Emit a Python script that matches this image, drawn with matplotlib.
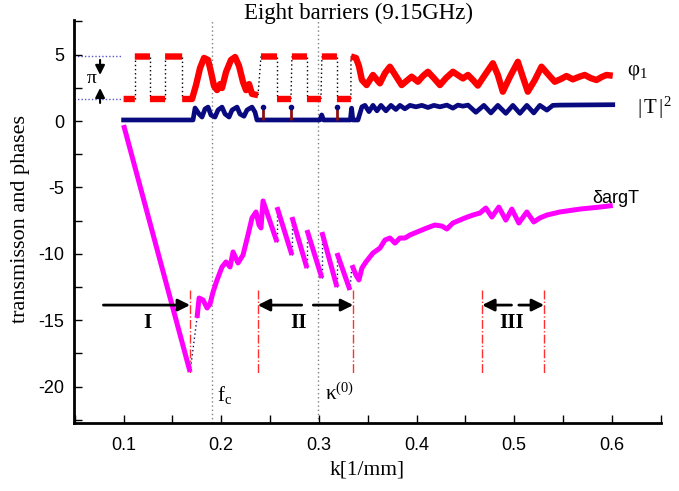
import numpy as np
import matplotlib.pyplot as plt
from matplotlib.ticker import MultipleLocator

plt.rcParams['axes.unicode_minus'] = False
plt.rcParams['mathtext.fontset'] = 'custom'
plt.rcParams['mathtext.rm'] = 'Liberation Serif'
plt.rcParams['mathtext.it'] = 'Liberation Serif:italic'
plt.rcParams['mathtext.bf'] = 'Liberation Serif:bold'

SERIF = 'Liberation Serif'
SANS = 'Liberation Sans'
nan = np.nan

# phase phi_1 (red), nan marks a jump (drawn as black dotted line)
phi_k = [0.1000, 0.1115, nan,
         0.1115, 0.1270, nan,
         0.1270, 0.1425, nan,
         0.1425, 0.1600, nan,
         0.1600, 0.1701, 0.1742, 0.1783, 0.1824, 0.1865, 0.1895, 0.1926, 0.1957,
         0.1988, 0.2008, 0.2049, 0.2100, 0.2142, 0.2182, 0.2223, 0.2254, 0.2285,
         0.2315, 0.2377, nan,
         0.2407, 0.2571, nan,
         0.2571, 0.2714, nan,
         0.2724, 0.2878, nan,
         0.2878, 0.3021, nan,
         0.3031, 0.3185, nan,
         0.3185, 0.3328, nan,
         0.3329, 0.3380, 0.3410, 0.3441, 0.3489, 0.3554, 0.3625, 0.3677, 0.3728,
         0.3789, 0.3848, 0.3950, 0.4014, 0.4066, 0.4117, 0.4178, 0.4240, 0.4301,
         0.4373, 0.4475, 0.4527, 0.4578, 0.4628, 0.4700, 0.4782, 0.4833, 0.4884,
         0.4956, 0.5038, 0.5089, 0.5140, 0.5212, 0.5280, 0.5345, 0.5416, 0.5478,
         0.5536, 0.5601, 0.5662, 0.5723, 0.5785, 0.5843, 0.5898, 0.5946, 0.6010]
phi_v = [1.66, 1.66, nan,
         4.86, 4.86, nan,
         1.66, 1.66, nan,
         4.86, 4.86, nan,
         1.66, 1.66, 2.71, 3.99, 4.75, 4.60, 3.69, 2.64, 2.33,
         2.78, 2.49, 3.69, 4.60, 4.82, 4.15, 2.94, 2.33, 2.78,
         2.04, 1.95, nan,
         4.86, 4.86, nan,
         1.66, 1.66, nan,
         4.86, 4.86, nan,
         1.66, 1.66, nan,
         4.86, 4.86, nan,
         1.66, 1.66, nan,
         4.86, 4.75, 4.15, 3.09, 2.71, 3.47, 2.84, 3.61, 4.09,
         3.39, 2.71, 3.34, 2.96, 3.39, 3.71, 3.23, 2.71, 3.23,
         3.71, 3.21, 3.47, 3.09, 2.67, 3.47, 4.35, 3.47, 2.21,
         3.32, 4.46, 3.32, 2.21, 3.09, 4.09, 3.54, 2.96, 3.16,
         3.39, 3.14, 3.32, 3.47, 3.23, 3.09, 3.32, 3.47, 3.41]

# transmission |T|^2 (navy)
trans_k = [0.1000, 0.1701, 0.1711, 0.1732, 0.1773, 0.1803, 0.1834, 0.1865, 0.1895,
           0.1936, 0.1967, 0.2008, 0.2039, 0.2080, 0.2111, 0.2162, 0.2192, 0.2233,
           0.2264, 0.2315, 0.2346, 0.2366, 0.3010, 0.3029, 0.3048, 0.3322, 0.3335,
           0.3348, 0.3400, 0.3441, 0.3472, 0.3513, 0.3554, 0.3595, 0.3636, 0.3687,
           0.3738, 0.3789, 0.3830, 0.3881, 0.3933, 0.3994, 0.4055, 0.4117, 0.4178,
           0.4240, 0.4311, 0.4373, 0.4424, 0.4475, 0.4527, 0.4608, 0.4690, 0.4762,
           0.4833, 0.4915, 0.4987, 0.5059, 0.5130, 0.5201, 0.5263, 0.5335, 0.5396,
           0.5468, 0.6010]
trans_v = [0.08, 0.08, 0.08, 0.98, 0.53, 0.30, 0.91, 1.05, 0.45,
           0.30, 0.83, 1.05, 0.53, 0.30, 0.83, 1.05, 0.53, 0.36,
           0.83, 1.05, 0.67, 0.08, 0.08, 0.46, 0.08, 0.08, 0.97,
           0.08, 0.08, 1.07, 1.18, 0.71, 1.18, 0.77, 1.18, 0.77,
           1.18, 0.87, 1.18, 0.92, 1.18, 1.07, 1.18, 1.02, 1.18,
           1.07, 1.20, 0.97, 1.20, 1.12, 1.20, 0.66, 1.18, 0.61,
           1.18, 0.58, 1.18, 0.58, 1.18, 0.61, 1.18, 0.82, 1.18,
           1.20, 1.23]

# resonance spikes (dark red) at |T|^2
spike_k = [0.2431, 0.2719, 0.3181]
spike_top = [1.07, 1.07, 1.07]

# delta arg T (magenta), nan marks a jump (navy dotted)
darg_k = [0.1000, 0.1681, nan,
          0.1752, 0.1773, 0.1814, 0.1855, 0.1885, 0.1916, 0.1957, 0.2008, 0.2049,
          0.2090, 0.2121, 0.2172, 0.2223, 0.2274, 0.2315, 0.2356, 0.2387, 0.2407,
          0.2428, 0.2571, nan,
          0.2571, 0.2724, nan,
          0.2724, 0.2878, nan,
          0.2878, 0.3031, nan,
          0.3031, 0.3185, nan,
          0.3185, 0.3318, nan,
          0.3339, 0.3380, 0.3410, 0.3441, 0.3482, 0.3554, 0.3625, 0.3677, 0.3728,
          0.3779, 0.3830, 0.3881, 0.3933, 0.4107, 0.4189, 0.4260, 0.4311, 0.4373,
          0.4495, 0.4577, 0.4649, 0.4710, 0.4772, 0.4843, 0.4915, 0.4976, 0.5048,
          0.5130, 0.5201, 0.5263, 0.5335, 0.5468, 0.5673, 0.5877, 0.6010]
darg_v = [-0.30, -18.90, nan,
          -14.83, -13.33, -13.48, -14.08, -13.78, -12.88, -11.97, -10.99, -10.61,
          -10.99, -9.86, -10.69, -10.09, -8.58, -7.30, -6.85, -7.83, -8.05,
          -6.02, -9.11, nan,
          -6.48, -10.09, nan,
          -7.23, -11.07, nan,
          -8.21, -11.82, nan,
          -8.36, -12.50, nan,
          -9.94, -12.72, nan,
          -10.85, -11.60, -11.97, -11.07, -10.61, -9.94, -9.57, -8.96, -8.81,
          -9.19, -8.81, -8.81, -8.58, -8.05, -7.83, -7.91, -8.13, -7.68,
          -7.30, -7.08, -6.93, -6.55, -7.23, -6.48, -7.46, -6.63, -7.68,
          -6.85, -7.60, -7.30, -7.08, -6.85, -6.63, -6.48, -6.36]

# region boundaries and characteristic wave numbers
region_k = [0.1681, 0.2374, 0.3352, 0.4672, 0.5307]
fc_k = 0.1908
kappa_k = 0.2996
phase_lo, phase_hi = 1.66, 4.89


def draw_broken(ax, xs, ys, color, lw, jcolor, z):
    xs = np.asarray(xs, float)
    ys = np.asarray(ys, float)
    ax.plot(xs, ys, color=color, lw=lw, solid_capstyle='butt',
            solid_joinstyle='round', zorder=z)
    for i in np.where(np.isnan(xs))[0]:
        ax.plot([xs[i - 1], xs[i + 1]], [ys[i - 1], ys[i + 1]],
                color=jcolor, ls=(0, (1, 2)), lw=1, zorder=z - 0.5)


fig = plt.figure(figsize=(6.79, 4.91), dpi=100)
ax = fig.add_axes([0.1087, 0.1385, 0.8642, 0.8208])

# guide lines
for xv in (fc_k, kappa_k):
    ax.axvline(xv, color='gray', ls=(0, (1, 2)), lw=1, zorder=1)
for xv in region_k:
    ax.plot([xv, xv], [-12.75, -19.0], color='#ff3030', ls='-.', lw=1, zorder=1)
for yv in (phase_lo, phase_hi):
    ax.plot([0.049, 0.0985], [yv, yv], color='#5555cc', ls=(0, (1, 1.5)), lw=1, zorder=1)

draw_broken(ax, darg_k, darg_v, '#ff00ff', 3.6, '#101070', 3)
draw_broken(ax, phi_k, phi_v, '#ff0000', 4.6, 'black', 4)
ax.plot(trans_k, trans_v, color='#0a0a80', lw=3.4, solid_joinstyle='round', zorder=5)
ax.vlines(spike_k, 0.08, spike_top, color='#8b1010', lw=2, zorder=5)
ax.plot(spike_k, spike_top, 'o', color='#0a0a80', ms=3, zorder=6)

# arrows for regions
arr = dict(arrowstyle='-|>', color='black', lw=2, mutation_scale=18, shrinkA=0, shrinkB=0)
y_arr = -13.86
for x0, x1 in [(0.0793, 0.1681), (0.2824, 0.2374), (0.2943, 0.3352),
               (0.4973, 0.4672), (0.5048, 0.5307)]:
    ax.annotate('', xy=(x1, y_arr), xytext=(x0, y_arr), arrowprops=arr)
for x, s in [(0.124, 'I'), (0.2796, 'II'), (0.4976, 'III')]:
    ax.text(x, -15.21, s, family=SERIF, fontweight='bold', fontsize=15,
            ha='center', va='center')

# pi marker
arr2 = dict(arrowstyle='-|>', color='black', lw=1.5, mutation_scale=14, shrinkA=0, shrinkB=0)
ax.annotate('', xy=(0.0759, 3.47), xytext=(0.0759, 4.60), arrowprops=arr2)
ax.annotate('', xy=(0.0759, 2.49), xytext=(0.0759, 1.36), arrowprops=arr2)
ax.text(0.0678, 3.22, 'π', family=SERIF, fontsize=14, ha='center', va='center')

ax.text(0.6153, 3.68, r'$\mathregular{φ_1}$', family=SERIF, fontsize=15, ha='left', va='center')
ax.text(0.6256, 0.97, r'$\mathregular{|\,T\,|^2}$', family=SERIF, fontsize=15, ha='left', va='center')
ax.text(0.5795, -5.87, 'δargT', family=SANS, fontsize=13, ha='left', va='center')
ax.text(0.196, -20.64, r'$\mathregular{f_c}$', family=SERIF, fontsize=15, ha='left', va='center')
ax.text(0.306, -20.54, r'$\mathregular{κ^{(0)}}$', family=SERIF, fontsize=15, ha='left', va='center')

ax.set_xlim(0.049, 0.65)
ax.set_ylim(-22.74, 7.61)
ax.xaxis.set_minor_locator(MultipleLocator(0.05))
ax.yaxis.set_minor_locator(MultipleLocator(2.5))
ax.set_xticks([0.1, 0.2, 0.3, 0.4, 0.5, 0.6])
ax.set_xticklabels(['0.1', '0.2', '0.3', '0.4', '0.5', '0.6'])
ax.set_yticks([5, 0, -5, -10, -15, -20])
ax.set_yticklabels(['5', '0', '-5', '-10', '-15', '-20'])
ax.tick_params(which='both', direction='in', length=6, width=1)
ax.tick_params(axis='x', pad=10, labelsize=13)
ax.tick_params(axis='y', pad=7, labelsize=13)
for lab in ax.get_xticklabels() + ax.get_yticklabels():
    lab.set_family(SANS)
for side in ('top', 'right'):
    ax.spines[side].set_visible(False)
for side in ('left', 'bottom'):
    ax.spines[side].set_linewidth(2)

fig.text(358 / 679, 1 - 13 / 491, 'Eight barriers (9.15GHz)', family=SERIF,
         fontsize=16.5, ha='center', va='center')
fig.text(21 / 679, 1 - 219 / 491, 'transmisson and phases', family=SERIF,
         fontsize=16, rotation=90, ha='center', va='center')
fig.text(367 / 679, 1 - 470 / 491, 'k[1/mm]', family=SERIF, fontsize=15.5,
         ha='center', va='center')

fig.savefig('out.png', dpi=100)
